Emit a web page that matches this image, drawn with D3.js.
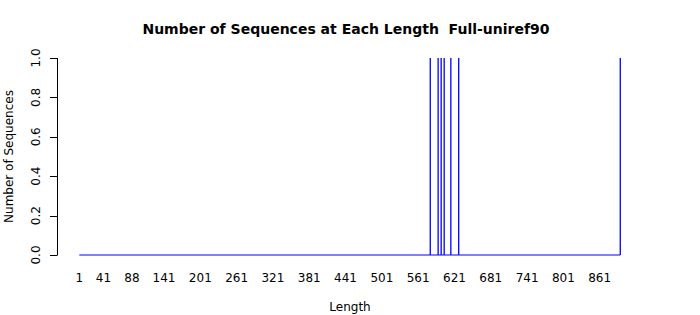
<!DOCTYPE html>
<html>
<head>
<meta charset="utf-8">
<script src="https://cdn.jsdelivr.net/npm/d3@7"></script>
<style>
    body { margin: 0; background: #fff; }
    text { font-family: "DejaVu Sans", sans-serif; fill: #000; }
</style>
</head>
<body>
<svg id="chart" width="700" height="315"></svg>
<script>
// lengths that have at least one sequence (every other length has a count of 0)
const seqLengths = [581, 594, 599, 604, 615, 628, 895];
const seqCounts = [1, 1, 1, 1, 1, 1, 1];
const lengthRange = [1, 895];
const xTickLabels = [1, 41, 88, 141, 201, 261, 321, 381, 441, 501, 561, 621, 681, 741, 801, 861];
const yTicks = [0, 0.2, 0.4, 0.6, 0.8, 1.0];

const svg = d3.select('#chart');

// scales
const x = d3.scaleLinear().domain([1, 861]).range([79.3, 599.7]);
const y = d3.scaleLinear().domain([0, 1]).range([255, 58]);

// title
svg.append('text')
    .attr('x', 346)
    .attr('y', 34)
    .attr('text-anchor', 'middle')
    .attr('font-size', '14px')
    .attr('font-weight', 'bold')
    .style('white-space', 'pre')
    .text('Number of Sequences at Each Length  Full-uniref90');

// zero counts: flat line across the whole length range
svg.append('line')
    .attr('x1', x(lengthRange[0]))
    .attr('x2', x(lengthRange[1]))
    .attr('y1', y(0))
    .attr('y2', y(0))
    .attr('stroke', '#0000ff')
    .attr('stroke-width', 1);

// spikes for lengths with sequences
svg.selectAll('.spike')
    .data(seqLengths)
    .join('line')
    .attr('class', 'spike')
    .attr('x1', d => x(d))
    .attr('x2', d => x(d))
    .attr('y1', y(0))
    .attr('y2', (d, i) => y(seqCounts[i]))
    .attr('stroke', '#0000ff')
    .attr('stroke-width', 1.3);

// y axis
const yAxis = svg.append('g');
yAxis.append('line')
    .attr('x1', 57.5).attr('x2', 57.5)
    .attr('y1', y(0)).attr('y2', y(1))
    .attr('stroke', '#000');
yAxis.selectAll('.ytick')
    .data(yTicks)
    .join('line')
    .attr('class', 'ytick')
    .attr('x1', 50).attr('x2', 57.5)
    .attr('y1', d => Math.round(y(d)) + 0.5)
    .attr('y2', d => Math.round(y(d)) + 0.5)
    .attr('stroke', '#000');
yAxis.selectAll('.ylabel')
    .data(yTicks)
    .join('text')
    .attr('class', 'ylabel')
    .attr('text-anchor', 'middle')
    .attr('font-size', '12px')
    .attr('transform', d => `translate(40,${y(d)}) rotate(-90)`)
    .text(d => d3.format('.1f')(d));

// x tick labels (no axis line)
svg.selectAll('.xlabel')
    .data(xTickLabels)
    .join('text')
    .attr('class', 'xlabel')
    .attr('x', d => x(d))
    .attr('y', 282)
    .attr('text-anchor', 'middle')
    .attr('font-size', '12px')
    .text(d => d);

// axis titles
svg.append('text')
    .attr('x', 350)
    .attr('y', 311)
    .attr('text-anchor', 'middle')
    .attr('font-size', '12px')
    .text('Length');

svg.append('text')
    .attr('transform', 'translate(13,156.5) rotate(-90)')
    .attr('text-anchor', 'middle')
    .attr('font-size', '12px')
    .text('Number of Sequences');
</script>
</body>
</html>
